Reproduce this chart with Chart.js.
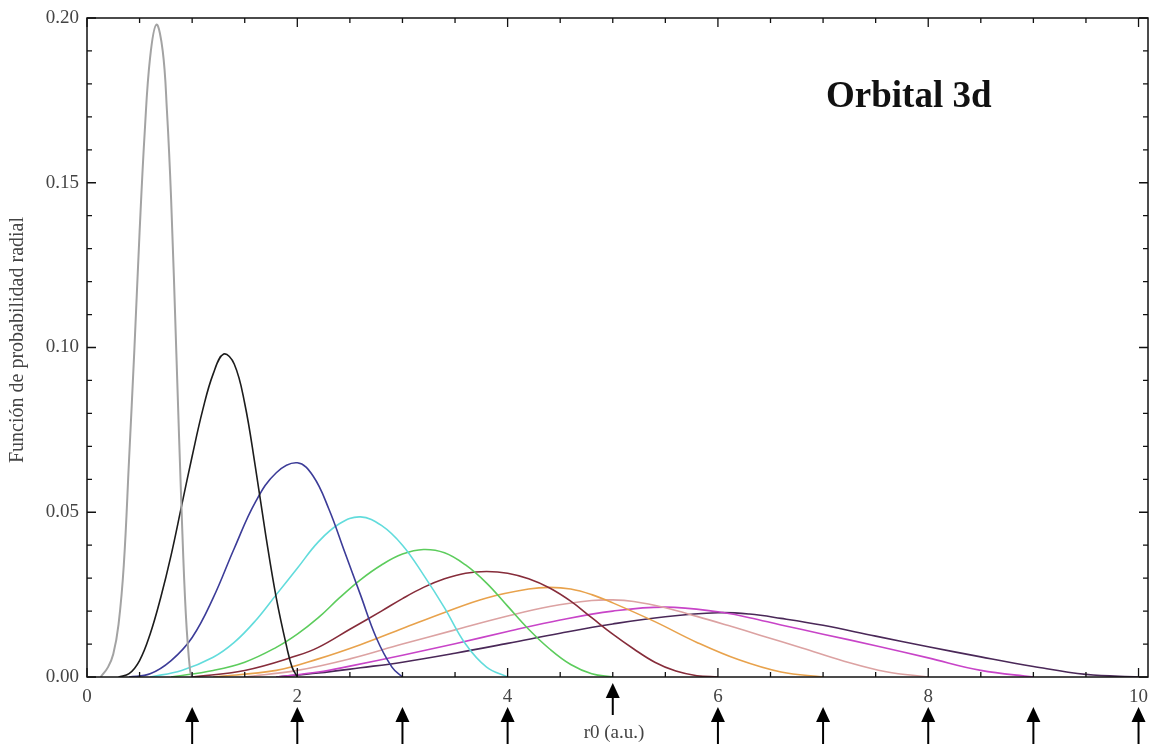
<!DOCTYPE html>
<html>
<head>
<meta charset="utf-8">
<script src="https://cdn.jsdelivr.net/npm/chart.js@4.4.1/dist/chart.umd.min.js"></script>
<style>
  html, body { margin: 0; padding: 0; background: #fff; }
</style>
</head>
<body>
<canvas id="chart" width="1151" height="744"></canvas>
<script>
// confinement radii r0 (a.u.), one curve each, marked by arrows under the axis
const r0Values = [1, 2, 3, 4, 5, 6, 7, 8, 9, 10];
const xTicks = [0, 2, 4, 6, 8, 10];
const yTicks = [0, 0.05, 0.10, 0.15, 0.20];

// radial probability P(r) for each r0, as [r, P] pairs
const curveR1 = [[0.13, 0], [0.2, 0.003], [0.25, 0.007], [0.3, 0.016], [0.35, 0.034], [0.4, 0.066], [0.45, 0.099],
  [0.5, 0.135], [0.55, 0.166], [0.6, 0.188], [0.66, 0.198], [0.72, 0.190], [0.76, 0.172], [0.8, 0.145],
  [0.85, 0.098], [0.9, 0.050], [0.94, 0.019], [0.98, 0.002], [1.0, 0]];
const curveR2 = [[0.3, 0], [0.4, 0.001], [0.5, 0.005], [0.6, 0.013], [0.7, 0.024], [0.8, 0.037], [0.9, 0.052],
  [1.0, 0.067], [1.1, 0.081], [1.2, 0.092], [1.3, 0.098], [1.4, 0.095], [1.5, 0.083], [1.6, 0.064],
  [1.7, 0.043], [1.8, 0.024], [1.9, 0.009], [1.95, 0.003], [2.0, 0]];
const curveR3 = [[0.4, 0], [0.6, 0.001], [0.8, 0.005], [1.0, 0.012], [1.2, 0.024], [1.4, 0.039], [1.6, 0.053],
  [1.8, 0.062], [2.0, 0.065], [2.15, 0.061], [2.3, 0.051], [2.45, 0.038], [2.6, 0.025], [2.75, 0.012],
  [2.9, 0.003], [3.0, 0]];
const curveR4 = [[0.6, 0], [0.9, 0.002], [1.2, 0.006], [1.4, 0.0105], [1.6, 0.017], [1.8, 0.025], [2.0, 0.033],
  [2.2, 0.041], [2.4, 0.0465], [2.6, 0.0486], [2.8, 0.046], [3.0, 0.040], [3.2, 0.031], [3.4, 0.021],
  [3.6, 0.010], [3.8, 0.003], [4.0, 0]];
const curveR5 = [[0.8, 0], [1.2, 0.002], [1.5, 0.0045], [1.8, 0.009], [2.0, 0.013], [2.2, 0.018], [2.4, 0.024],
  [2.6, 0.0295], [2.8, 0.034], [3.0, 0.0373], [3.2, 0.0387], [3.4, 0.0377], [3.6, 0.034], [3.8, 0.0285],
  [4.0, 0.0215], [4.2, 0.0145], [4.4, 0.0085], [4.6, 0.0038], [4.8, 0.001], [5.0, 0]];
const curveR6 = [[1.0, 0], [1.5, 0.002], [2.0, 0.0065], [2.2, 0.009], [2.5, 0.0145], [2.8, 0.020], [3.0, 0.0238],
  [3.2, 0.0272], [3.4, 0.0298], [3.6, 0.0315], [3.8, 0.032], [4.0, 0.0315], [4.2, 0.0298], [4.4, 0.027],
  [4.6, 0.023], [4.8, 0.018], [5.0, 0.013], [5.2, 0.0085], [5.4, 0.0045], [5.6, 0.0018], [5.8, 0.0004], [6.0, 0]];
const curveR7 = [[1.2, 0], [1.8, 0.002], [2.2, 0.0055], [2.6, 0.0098], [3.0, 0.0147], [3.4, 0.0196], [3.8, 0.0240],
  [4.2, 0.0267], [4.4, 0.0272], [4.6, 0.0267], [4.8, 0.025], [5.0, 0.0225], [5.4, 0.0168], [5.8, 0.0105],
  [6.2, 0.0052], [6.6, 0.0015], [7.0, 0]];
const curveR8 = [[1.5, 0], [2.0, 0.002], [2.5, 0.0055], [3.0, 0.0100], [3.5, 0.0143], [4.0, 0.0185], [4.4, 0.0214],
  [4.8, 0.0232], [5.0, 0.0234], [5.2, 0.0229], [5.5, 0.0210], [5.8, 0.0184], [6.1, 0.0156], [6.4, 0.0127],
  [6.8, 0.0088], [7.2, 0.0048], [7.6, 0.0016], [8.0, 0]];
const curveR9 = [[1.8, 0], [2.2, 0.0015], [2.5, 0.0033], [3.0, 0.0066], [3.5, 0.0101], [4.0, 0.0138], [4.5, 0.0173],
  [5.0, 0.0200], [5.5, 0.0212], [6.0, 0.0198], [6.3, 0.0180], [6.6, 0.0158], [7.0, 0.0130], [7.5, 0.0095],
  [8.0, 0.0058], [8.5, 0.0020], [9.0, 0]];
const curveR10 = [[1.8, 0], [2.2, 0.0012], [2.6, 0.0028], [3.0, 0.0045], [3.5, 0.0072], [4.0, 0.0102], [4.5, 0.0133],
  [5.0, 0.0161], [5.5, 0.0183], [6.0, 0.0195], [6.3, 0.0191], [6.6, 0.0178], [7.0, 0.0157], [7.5, 0.0124],
  [8.0, 0.0092], [8.5, 0.0061], [9.0, 0.0032], [9.5, 0.0008], [10.0, 0]];

const curves = [curveR1, curveR2, curveR3, curveR4, curveR5, curveR6, curveR7, curveR8, curveR9, curveR10];
const colors = ['#a3a3a3', '#1c1c1c', '#3c3c98', '#62dcdc', '#5ccc5c', '#862c3a', '#e8a24c', '#dca2a2', '#c844c8', '#4a2858'];

const serif = '"Liberation Serif", "Times New Roman", serif';

// frame with inward ticks, arrows under the axis, titles
const framePlugin = {
  id: 'frame',
  afterDraw(chart) {
    const { ctx, chartArea: a, scales: { x, y } } = chart;
    ctx.save();
    ctx.strokeStyle = '#111';
    ctx.lineWidth = 1.5;
    ctx.strokeRect(a.left, a.top, a.right - a.left, a.bottom - a.top);

    ctx.lineWidth = 1.3;
    ctx.beginPath();
    for (let i = 0; i <= 20; i++) {
      const px = x.getPixelForValue(i / 2);
      const len = i % 4 === 0 ? 9 : 5;
      ctx.moveTo(px, a.bottom); ctx.lineTo(px, a.bottom - len);
      ctx.moveTo(px, a.top); ctx.lineTo(px, a.top + len);
    }
    for (let i = 0; i <= 20; i++) {
      const py = y.getPixelForValue(i / 100);
      const len = i % 5 === 0 ? 9 : 5;
      ctx.moveTo(a.left, py); ctx.lineTo(a.left + len, py);
      ctx.moveTo(a.right, py); ctx.lineTo(a.right - len, py);
    }
    ctx.stroke();

    // arrows at each r0
    ctx.fillStyle = '#000';
    ctx.strokeStyle = '#000';
    ctx.lineWidth = 2;
    r0Values.forEach(v => {
      const px = x.getPixelForValue(v);
      const raised = v === 5;
      const tip = raised ? a.bottom + 6 : a.bottom + 30;
      const end = raised ? a.bottom + 38 : chart.height;
      ctx.beginPath();
      ctx.moveTo(px, tip + 10); ctx.lineTo(px, end);
      ctx.stroke();
      ctx.beginPath();
      ctx.moveTo(px, tip);
      ctx.lineTo(px - 7, tip + 15);
      ctx.lineTo(px + 7, tip + 15);
      ctx.closePath();
      ctx.fill();
    });

    // titles
    ctx.fillStyle = '#111';
    ctx.textBaseline = 'middle';
    ctx.textAlign = 'left';
    ctx.font = 'bold 37px ' + serif;
    ctx.fillText('Orbital 3d', 826, 97);

    ctx.fillStyle = '#444';
    ctx.font = '19px ' + serif;
    ctx.textAlign = 'center';
    ctx.fillText('r0 (a.u.)', 614, 733);

    ctx.font = '20px ' + serif;
    ctx.translate(18, 340);
    ctx.rotate(-Math.PI / 2);
    ctx.fillText('Función de probabilidad radial', 0, 0);
    ctx.restore();
  }
};

new Chart(document.getElementById('chart'), {
  type: 'line',
  data: {
    datasets: curves.map((c, i) => ({
      label: 'r0 = ' + r0Values[i],
      data: c.map(p => ({ x: p[0], y: p[1] })),
      borderColor: colors[i],
      borderWidth: i === 0 ? 2 : 1.6,
      pointRadius: 0,
      fill: false,
      tension: 0.4
    }))
  },
  options: {
    responsive: false,
    animation: false,
    layout: { padding: { top: 18, right: 3, left: 0, bottom: 0 } },
    plugins: {
      legend: { display: false },
      tooltip: { enabled: false }
    },
    scales: {
      x: {
        type: 'linear',
        min: 0,
        max: 10.09,
        grid: { display: false, drawTicks: false },
        border: { display: false },
        afterBuildTicks: s => { s.ticks = xTicks.map(v => ({ value: v })); },
        afterFit: s => { s.height = 67; s.paddingLeft = 0; s.paddingRight = 0; },
        ticks: {
          padding: 9,
          color: '#444',
          font: { family: serif, size: 19 },
          callback: v => String(v)
        }
      },
      y: {
        min: 0,
        max: 0.20,
        grid: { display: false, drawTicks: false },
        border: { display: false },
        afterBuildTicks: s => { s.ticks = yTicks.map(v => ({ value: v })); },
        afterFit: s => { s.width = 87; s.paddingTop = 0; s.paddingBottom = 0; },
        ticks: {
          padding: 8,
          color: '#444',
          font: { family: serif, size: 19 },
          callback: v => v.toFixed(2)
        }
      }
    }
  },
  plugins: [framePlugin]
});
</script>
</body>
</html>
